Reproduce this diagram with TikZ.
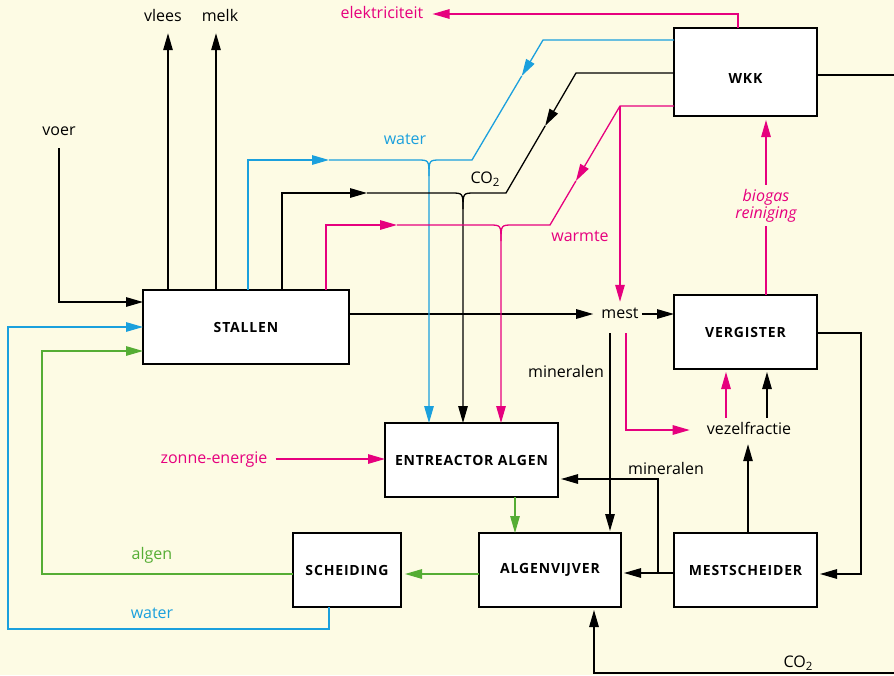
\documentclass[tikz,border=0pt]{standalone}
\usepackage{fontspec}
\setmainfont{Open Sans}
\newfontfamily\blokfont{Open Sans}[LetterSpace=6]
\usepackage{tikz}
\usetikzlibrary{calc,arrows.meta}
\definecolor{bg}{HTML}{FDFBE4}
\definecolor{roze}{HTML}{E6007E}
\definecolor{blauw}{HTML}{1BA0DD}
\definecolor{groen}{HTML}{55AD34}
\newcommand\cotwee{CO\raisebox{-3.5pt}{\fontsize{11.5}{12}\selectfont 2}}
\tikzset{
  blok/.style={draw=black, fill=white, line width=2.5pt, outer sep=0pt, inner sep=0pt,
    font=\blokfont\bfseries\fontsize{14}{16}\selectfont},
  zw/.style={draw=black, line width=1.3pt},
  bl/.style={draw=blauw, line width=1.3pt},
  rz/.style={draw=roze, line width=1.3pt},
  gr/.style={draw=groen, line width=1.3pt},
  lab/.style={font=\fontsize{16}{17}\selectfont, inner sep=3pt, text height=11pt, text depth=3pt},
}

\begin{document}
\begin{tikzpicture}[x=1pt, y=-1pt, >={Triangle[length=17pt,width=9.5pt]}]
  \fill[bg, use as bounding box] (0,0) rectangle (894,675);

  % blokken
  \node[blok, minimum width=206pt, minimum height=74pt] (stal) at (246,327) {STALLEN};
  \node[blok, minimum width=143pt, minimum height=88pt, text height=22pt, text depth=0pt] (wkk) at (745.5,72) {WKK};
  \node[blok, minimum width=143pt, minimum height=74pt] (verg) at (745.5,332) {VERGISTER};
  \node[blok, minimum width=173pt, minimum height=74pt] (entr) at (471.5,460) {ENTREACTOR ALGEN};
  \node[blok, minimum width=142pt, minimum height=74pt] (vijv) at (550,570) {ALGENVIJVER};
  \node[blok, minimum width=143pt, minimum height=74pt] (msch) at (745.5,570) {MESTSCHEIDER};
  \node[blok, minimum width=108pt, minimum height=74pt] (sche) at (347,570) {SCHEIDING};

  % losse teksten
  \node[lab] (voer) at (59,131) {voer};
  \node[lab] (vlees) at (163,17) {vlees};
  \node[lab] (melk) at (220,17) {melk};
  \node[lab, text=roze] (elek) at (382,14) {elektriciteit};
  \node[lab, text=blauw] (water1) at (405,140) {water};
  \node[lab] (co2a) at (485,179) {\cotwee};
  \node[lab, text=roze] (warmte) at (580,237) {warmte};
  \node[lab] (mest) at (620,314) {mest};
  \node[lab] (min1) at (566,373) {mineralen};
  \node[lab] (vezel) at (749,430) {vezelfractie};
  \node[lab] (min2) at (666,470) {mineralen};
  \node[lab, text=roze] (zon) at (214,459) {zonne-energie};
  \node[lab, text=groen] (algen) at (152,555) {algen};
  \node[lab, text=blauw] (water2) at (152,614) {water};
  \node[lab] (co2b) at (798,663) {\cotwee};

  % knikpunten
  \coordinate (jb) at (429,160);
  \coordinate (jz) at (463,193);
  \coordinate (jr) at (501,225);
  \coordinate (wa1) at (329,160);
  \coordinate (co1) at (367,193);
  \coordinate (wm1) at (397,225);
  \coordinate (wb1) at (543,40);
  \coordinate (wb3) at (472,160);
  \coordinate (zb1) at (576,73);
  \coordinate (zb3) at (506,193);
  \coordinate (rb1) at (620,106);
  \coordinate (rb3) at (550,225);
  \coordinate (vr) at (861,333);
  \coordinate (mt) at (658,573);
  \coordinate (wl) at (8,629);
  \coordinate (gl) at (42,351);
  \coordinate (rr) at (894,673);

  % stallen
  \draw[zw,->, shorten <=7pt] (voer.south) |- ([yshift=-12pt]stal.north west);
  \draw[zw,->, shorten >=6pt] ([xshift=25pt]stal.north west) coordinate (p1) -- (p1 |- vlees.south);
  \draw[zw,->, shorten >=6pt] ([xshift=73pt]stal.north west) coordinate (p2) -- (p2 |- melk.south);
  \draw[bl,->] ([xshift=-18pt]sche.south) |- (wl) |- (stal.west);
  \draw[gr,->] ([yshift=-4pt]sche.west) -| (gl) -- ([yshift=-24pt]stal.west);
  \draw[zw,->, shorten >=5pt] (stal.east |- mest) -- (mest.west);

  % water, CO2 en warmte naar de reactor
  \draw[bl,->] ([xshift=105pt]stal.north west) |- (wa1);
  \draw[bl,->] (wa1) -- ($(jb)+(-12,0)$) .. controls (jb) .. ($(jb)+(0,16)$) -- (jb |- entr.north);
  \draw[bl,->] ([yshift=-12pt]wkk.north west) -- (wb1) -- ($(wb1)!0.3!(wb3)$);
  \draw[bl] ($(wb1)!0.3!(wb3)$) -- (wb3) -- ($(jb)+(12,0)$) .. controls (jb) .. ($(jb)+(0,16)$);

  \draw[zw,->] ([xshift=139pt]stal.north west) |- (co1);
  \draw[zw,->] (co1) -- ($(jz)+(-12,0)$) .. controls (jz) .. ($(jz)+(0,16)$) -- (jz |- entr.north);
  \draw[zw,->] ([yshift=-45pt]wkk.north west) -- (zb1) -- ($(zb1)!0.44!(zb3)$);
  \draw[zw] ($(zb1)!0.44!(zb3)$) -- (zb3) -- ($(jz)+(12,0)$) .. controls (jz) .. ($(jz)+(0,16)$);

  \draw[rz,->] ([xshift=183pt]stal.north west) |- (wm1);
  \draw[rz,->] (wm1) -- ($(jr)+(-12,0)$) .. controls (jr) .. ($(jr)+(0,16)$) -- (jr |- entr.north);
  \draw[rz,->] ([yshift=-78pt]wkk.north west) -- (rb1) -- ($(rb1)!0.63!(rb3)$);
  \draw[rz] ($(rb1)!0.63!(rb3)$) -- (rb3) -- ($(jr)+(12,0)$) .. controls (jr) .. ($(jr)+(0,16)$);
  \draw[rz,->, shorten >=2pt] (rb1) -- (rb1 |- mest.north);

  \draw[rz,->, shorten <=5pt] (zon.east) -- (zon.east -| entr.west);

  % wkk
  \draw[rz,->, shorten >=6pt] ([xshift=-7.5pt]wkk.north) |- (elek.east);
  \draw[zw] ([yshift=-3pt]wkk.east) coordinate (w1) -- (w1 -| rr);
  \draw[rz,->, shorten >=4pt] ([xshift=20.5pt]verg.north) coordinate (b1) -- (b1 |- wkk.south)
    node[midway, fill=bg, text=roze, align=center, inner sep=4pt,
      font=\itshape\fontsize{16}{17}\selectfont] (biogas) {biogas\\reiniging};

  % mest
  \draw[zw,->] (mest.east) -- (mest.east -| verg.west);
  \draw[zw,->, shorten <=9pt, shorten >=2pt] ([xshift=-10pt]mest.south) coordinate (m1) -- (m1 |- vijv.north);
  \draw[rz,->, shorten <=9pt, shorten >=14pt] ([xshift=6pt]mest.south) coordinate (m2) |- (vezel.west);
  \draw[rz,->, shorten <=2pt, shorten >=3pt] ([xshift=-23pt]vezel.north) coordinate (v1) -- (v1 |- verg.south);
  \draw[zw,->, shorten <=2pt, shorten >=3pt] ([xshift=18pt]vezel.north) coordinate (v2) -- (v2 |- verg.south);
  \draw[zw,->, shorten >=4pt] ([xshift=2.5pt]msch.north) coordinate (v3) -- (v3 |- vezel.south);
  \draw[zw,->, shorten >=3pt] (verg.east |- vr) -- (vr) |- ([yshift=-4pt]msch.east);

  % algen
  \draw[zw,->, shorten >=3pt] ([yshift=-3pt]msch.west) -- ([yshift=-3pt]vijv.east);
  \draw[zw,->, shorten >=3pt] (mt) |- ([yshift=18pt]entr.south east);
  \draw[gr,->] ([xshift=43.5pt]entr.south) coordinate (g1) -- (g1 |- vijv.north);
  \draw[gr,->, shorten >=4pt] ([yshift=-4pt]vijv.west) -- ([yshift=-4pt]sche.east);
  \draw[zw,->, shorten >=3pt] (rr) -| ([xshift=44pt]vijv.south);
\end{tikzpicture}
\end{document}
